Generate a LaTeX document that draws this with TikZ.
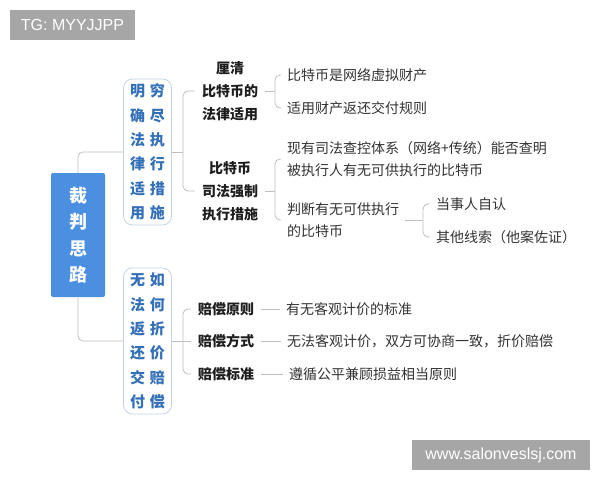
\documentclass[tikz,border=0pt]{standalone}
\usepackage{fontspec}
\newfontfamily\cjk{Noto Sans CJK SC}
\newfontfamily\latf{Liberation Sans}
\definecolor{lineg}{HTML}{BEBEBE}
\definecolor{wmgray}{HTML}{A6A6A6}
\definecolor{rootblue}{HTML}{4A8FE0}
\definecolor{boxline}{HTML}{C5D3E8}
\definecolor{txtblue}{HTML}{3370B8}
\definecolor{headc}{HTML}{1E1E1E}
\definecolor{leafc}{HTML}{333333}
\begin{document}
\begin{tikzpicture}[x=1pt,y=-1pt,
 conn/.style={draw=lineg, line width=0.8pt, rounded corners=5pt},
 wm/.style={fill=wmgray, text=white, font=\latf\fontsize{16}{16}\selectfont, inner sep=0pt, minimum height=30pt},
 rootbox/.style={fill=rootblue, rounded corners=2pt, minimum width=54pt, minimum height=124pt, text=white, font=\cjk\bfseries\fontsize{18}{26.5}\selectfont, align=center, inner sep=0pt},
 subbox/.style={draw=boxline, line width=0.8pt, fill=white, rounded corners=9pt, minimum width=48pt, minimum height=146pt, text=txtblue, font=\cjk\bfseries\fontsize{15}{24.3}\selectfont, align=center, inner sep=0pt},
 head/.style={font=\cjk\bfseries\fontsize{14}{23}\selectfont, text=headc, align=center, inner xsep=7pt, inner ysep=2pt},
 leaf/.style={font=\cjk\fontsize{14}{22}\selectfont, text=leafc, align=left, inner xsep=6pt, inner ysep=2pt, anchor=west},
]
\fill[white] (0,0) rectangle (600,480);
\useasboundingbox (0,0) rectangle (600,480);

\node[wm, minimum width=125pt] (tg) at (72.5,25) {TG: MYYJJPP};
\node[wm, minimum width=178pt] (www) at (501,455) {www.salonveslsj.com};

\node[rootbox] (root) at (78,235) {裁\\判\\思\\路};
\node[subbox] (up) at (147.5,152) {明\hspace{5pt}穷\\确\hspace{5pt}尽\\法\hspace{5pt}执\\律\hspace{5pt}行\\适\hspace{5pt}措\\用\hspace{5pt}施};
\node[subbox] (lo) at (147.5,341) {无\hspace{5pt}如\\法\hspace{5pt}何\\返\hspace{5pt}折\\还\hspace{5pt}价\\交\hspace{5pt}赔\\付\hspace{5pt}偿};

\node[head] (c1) at (230,91) {厘清\\比特币的\\法律适用};
\node[head] (c2) at (230,191) {比特币\\司法强制\\执行措施};
\node[head] (c3) at (226,309) {赔偿原则};
\node[head] (c4) at (226,341) {赔偿方式};
\node[head] (c5) at (226,374) {赔偿标准};

\node[leaf] (l1) at (281,75) {比特币是网络虚拟财产};
\node[leaf] (l2) at (281,108) {适用财产返还交付规则};
\node[leaf] (l3) at (281,159) {现有司法查控体系（网络+传统）能否查明\\被执行人有无可供执行的比特币};
\node[leaf] (l4) at (281,220) {判断有无可供执行\\的比特币};
\node[leaf] (l5) at (430,204) {当事人自认};
\node[leaf] (l6) at (430,237) {其他线索（他案佐证）};
\node[leaf] (l7) at (280,309) {有无客观计价的标准};
\node[leaf] (l8) at (281,341) {无法客观计价，双方可协商一致，折价赔偿};
\node[leaf] (l9) at (283,374) {遵循公平兼顾损益相当原则};

\coordinate (bxa) at (183,0);
\coordinate (bxb) at (275,0);
\coordinate (bxc) at (423,0);

\draw[conn] (root.north) |- (up.west);
\draw[conn] (root.south) |- (lo.west);
\draw[conn] (up.east) -- (up.east -| bxa);
\draw[conn] (c1.west) -- (c1.west -| bxa) -- (c2.west -| bxa) -- (c2.west);
\draw[conn] (c1.east) -- (c1.east -| bxb);
\draw[conn] (l1.west) -- (l1.west -| bxb) -- (l2.west -| bxb) -- (l2.west);
\draw[conn] (c2.east) -- (c2.east -| bxb);
\draw[conn] (l3.west) -- (l3.west -| bxb) -- (l4.west -| bxb) -- (l4.west);
\draw[conn] (l4.east) -- (l4.east -| bxc);
\draw[conn] (l5.west) -- (l5.west -| bxc) -- (l6.west -| bxc) -- (l6.west);
\draw[conn] (lo.east) -- (lo.east -| c4.west);
\draw[conn] (c3.west) -- (c3.west -| bxa) -- (c5.west -| bxa) -- (c5.west);
\draw[conn] (c3.east) -- (c3.east -| l7.west);
\draw[conn] (c4.east) -- (c4.east -| l8.west);
\draw[conn] (c5.east) -- (c5.east -| l9.west);
\end{tikzpicture}
\end{document}
